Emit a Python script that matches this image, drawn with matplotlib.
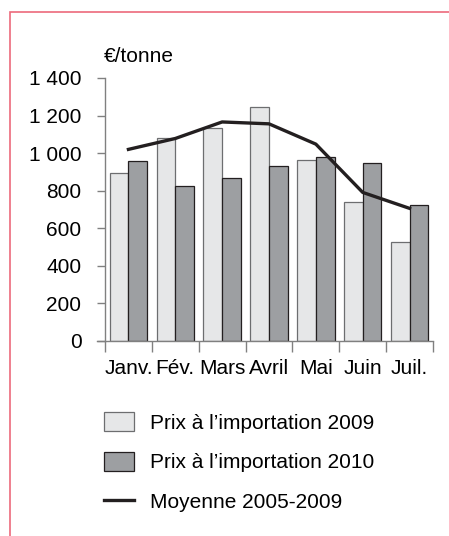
import numpy as np
import matplotlib.pyplot as plt
from matplotlib.patches import Rectangle

months = ['Janv.', 'Fév.', 'Mars', 'Avril', 'Mai', 'Juin', 'Juil.']
prix_2009 = [895, 1081, 1133, 1246, 964, 741, 527]
prix_2010 = [957, 826, 867, 934, 979, 945, 722]
moyenne = [1020, 1078, 1166, 1156, 1048, 791, 706]
yticks = [0, 200, 400, 600, 800, 1000, 1200, 1400]
ytick_labels = ['0', '200', '400', '600', '800', '1 000', '1 200', '1 400']

plt.rcParams['font.family'] = ['Liberation Sans', 'DejaVu Sans']
fs = 15

fig = plt.figure(figsize=(4.49, 5.36), dpi=100)
ax = fig.add_axes([105 / 449, 1 - 341 / 536, 328 / 449, 263 / 536])

x = np.arange(len(months))
w = 0.4
b1 = ax.bar(x - w / 2, prix_2009, w, color='#e6e7e8', edgecolor='#6d6e70', linewidth=0.9,
            label='Prix à l\u2019importation 2009')
b2 = ax.bar(x + w / 2, prix_2010, w, color='#9d9fa2', edgecolor='#231f20', linewidth=0.9,
            label='Prix à l\u2019importation 2010')
ln, = ax.plot(x, moyenne, color='#231f20', linewidth=2.4, label='Moyenne 2005-2009')

ax.set_xlim(-0.5, len(months) - 0.5)
ax.set_ylim(0, 1400)
ax.set_yticks(yticks)
ax.set_yticklabels(ytick_labels)
ax.set_xticks(x)
ax.set_xticklabels(months)
ax.set_xticks(np.arange(len(months) + 1) - 0.5, minor=True)

for s in ['top', 'right']:
    ax.spines[s].set_visible(False)
for s in ['left', 'bottom']:
    ax.spines[s].set_color('#808080')
    ax.spines[s].set_linewidth(1.0)

ax.tick_params(axis='y', direction='out', length=6, width=1, color='#808080',
               pad=11, labelsize=fs)
ax.tick_params(axis='x', which='major', length=0, pad=13, labelsize=fs)
ax.tick_params(axis='x', which='minor', direction='out', length=8, width=1, color='#808080')
ax.spines['bottom'].set_bounds(-0.5 - 8 / 46.9, len(months) - 0.5)

fig.text(104 / 449, 1 - 56 / 536, '€/tonne', fontsize=fs, va='center', ha='left')

ax.legend(handles=[b1, b2, ln], loc='upper left', bbox_to_anchor=(104 / 449, 1 - 412 / 536),
          bbox_transform=fig.transFigure, frameon=False, fontsize=fs,
          handlelength=1.44, handleheight=1.06, handletextpad=0.77, labelspacing=0.9,
          borderaxespad=0, borderpad=0)

# pink frame
fig.patches.append(Rectangle((10 / 449, -0.1), 1.2, 1 - 12 / 536 + 0.1,
                             transform=fig.transFigure, fill=False,
                             edgecolor='#ec6a7c', linewidth=1.2))

fig.savefig('out.png', dpi=100)
